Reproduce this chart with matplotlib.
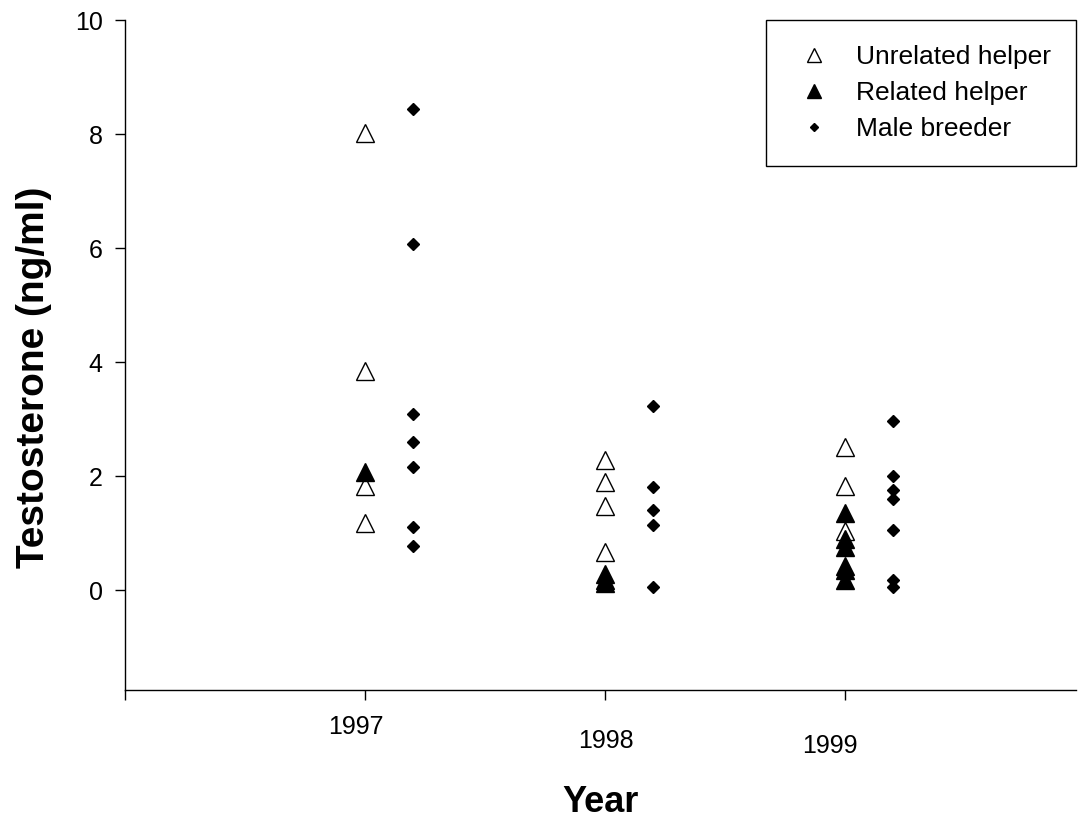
import matplotlib
matplotlib.use("Agg")
import matplotlib.pyplot as plt
import matplotlib.transforms as mtransforms

plt.rcParams['font.family'] = ['Liberation Sans', 'DejaVu Sans']

# Valeurs (ng/ml)
years = [1997, 1998, 1999]
year_labels = ['1997', '1998', '1999']
unrelated = [[8.02, 3.84, 1.82, 1.18],
             [2.28, 1.89, 1.48, 0.67],
             [2.51, 1.82, 1.04]]
related = [[2.07],
           [0.28, 0.18, 0.12],
           [1.35, 0.90, 0.75, 0.42, 0.36, 0.18]]
breeder = [[8.44, 6.07, 3.09, 2.60, 2.16, 1.11, 0.77],
           [3.23, 1.81, 1.41, 1.15, 0.05],
           [2.96, 2.01, 1.76, 1.60, 1.05, 0.17, 0.05]]
breeder_shift = 0.2

fig = plt.figure(figsize=(10.78, 8.21), dpi=100)
ax = fig.add_axes([0.116, 0.1596, 0.8822, 0.816])

def flat(groups, shift=0.0):
    xs, ys = [], []
    for yr, vals in zip(years, groups):
        xs += [yr + shift] * len(vals)
        ys += vals
    return xs, ys

x, y = flat(unrelated)
ax.plot(x, y, '^', ms=13, mfc='white', mec='black', mew=1.0, ls='none', label='Unrelated helper')
x, y = flat(related)
ax.plot(x, y, '^', ms=13, mfc='black', mec='black', mew=1.0, ls='none', label='Related helper')
x, y = flat(breeder, breeder_shift)
ax.plot(x, y, 'D', ms=6, mfc='black', mec='black', ls='none', label='Male breeder')

ax.set_xlim(1996, 1999.9625)
ax.set_ylim(-1.75, 10)
ax.set_yticks([0, 2, 4, 6, 8, 10])
ax.set_xticks([1996] + years)
ax.set_xticklabels([])

for side in ['top', 'right']:
    ax.spines[side].set_visible(False)
for side in ['left', 'bottom']:
    ax.spines[side].set_linewidth(1.0)
ax.tick_params(direction='out', length=7.2, width=1.0, labelsize=18, pad=9)

# etiquettes des années (légèrement décalées comme dans l'original)
offsets = [(-6.5, -27), (0.7, -37), (-11, -40)]
trans = mtransforms.blended_transform_factory(ax.transData, ax.transAxes)
for yr, lab, (dx, dy) in zip(years, year_labels, offsets):
    ax.annotate(lab, xy=(yr, 0), xycoords=trans, xytext=(dx, dy), textcoords='offset points',
                ha='center', va='center', fontsize=18)

ax.set_ylabel('Testosterone (ng/ml)', fontsize=28, fontweight='bold')
ax.yaxis.set_label_coords(-0.0768, 0.467)
ax.set_xlabel('Year', fontsize=26, fontweight='bold')
ax.xaxis.set_label_coords(0.5, -0.142)

leg = ax.legend(loc='upper right', bbox_to_anchor=(1, 1), borderaxespad=0, fontsize=19,
                fancybox=False, framealpha=1, edgecolor='black', markerscale=0.75,
                borderpad=0.95, handlelength=1.7, handletextpad=0.76, labelspacing=0.45)
leg.get_frame().set_linewidth(1.0)

fig.savefig('out.png', dpi=100)
